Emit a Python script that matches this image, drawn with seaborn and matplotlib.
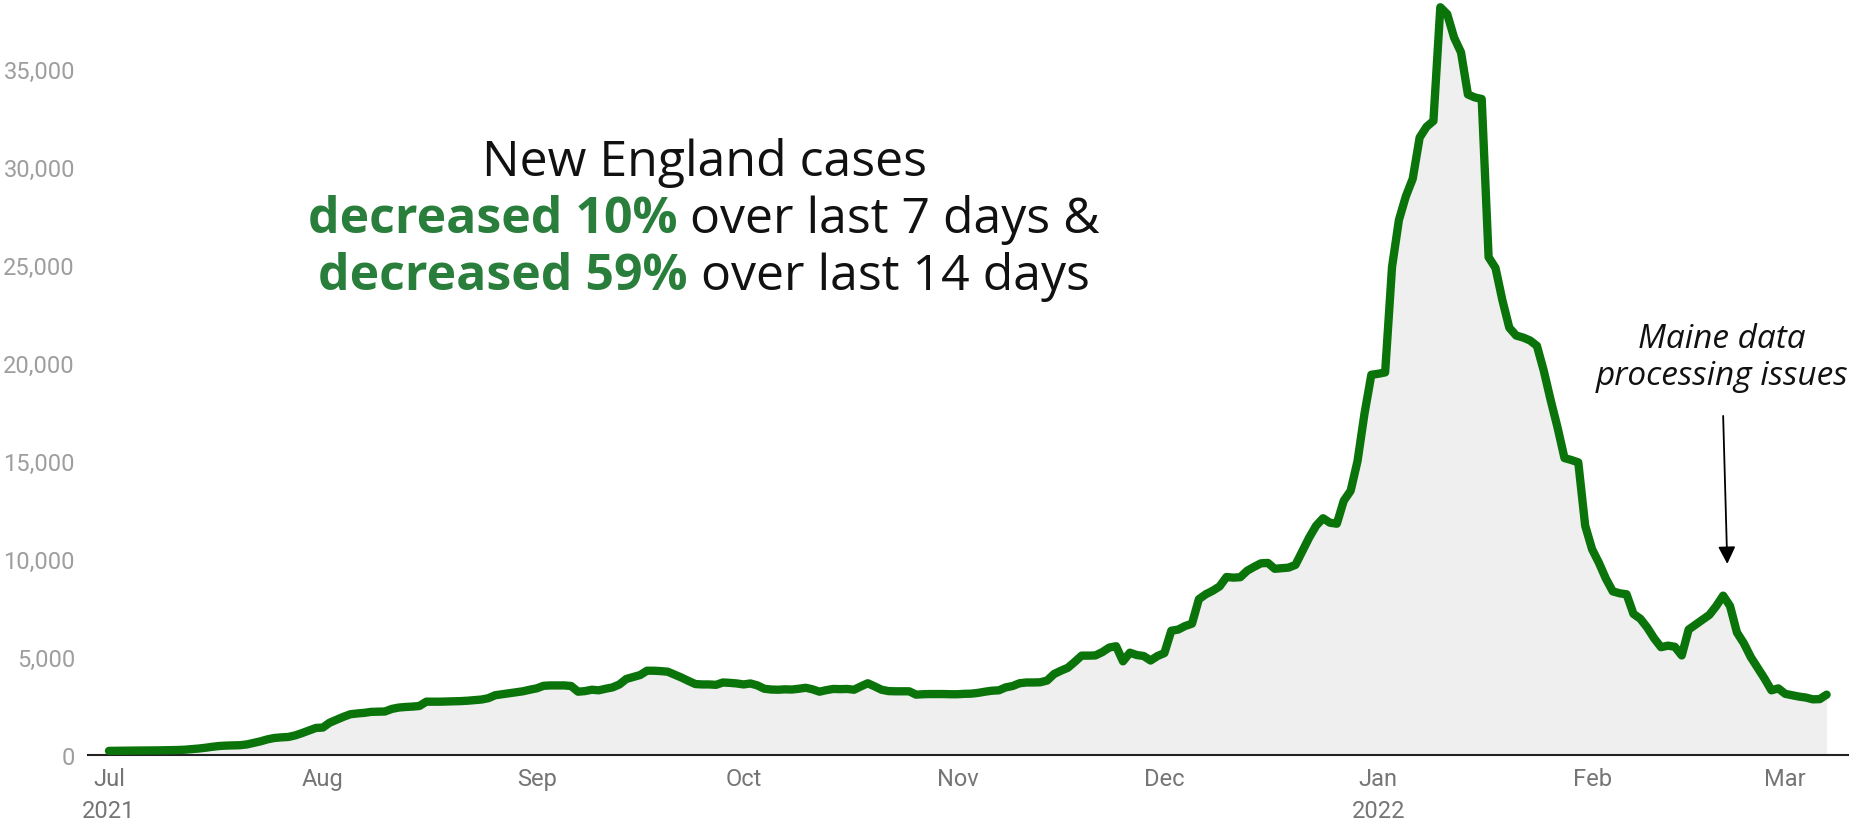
import numpy as np
import pandas as pd
import matplotlib
matplotlib.use("Agg")
import matplotlib.pyplot as plt
import matplotlib.dates as mdates
import seaborn as sns

# ---------------- data ----------------
start_date = "2021-07-01"
cases = [
    210, 215, 220, 220, 225, 230, 230, 235, 240, 245,
    255, 270, 300, 330, 370, 420, 460, 480, 490, 500,
    540, 620, 700, 800, 870, 900, 920, 1000, 1120, 1250,
    1380, 1400, 1650, 1800, 1950, 2080, 2120, 2150, 2200, 2210,
    2220, 2350, 2420, 2450, 2470, 2500, 2720, 2720, 2720, 2730,
    2740, 2750, 2770, 2800, 2830, 2900, 3050, 3100, 3150, 3200,
    3250, 3330, 3400, 3530, 3550, 3550, 3550, 3520, 3230, 3260,
    3330, 3300, 3380, 3450, 3600, 3880, 3980, 4080, 4300, 4300,
    4280, 4250, 4100, 3950, 3780, 3620, 3600, 3600, 3580, 3700,
    3680, 3650, 3600, 3650, 3550, 3380, 3340, 3330, 3350, 3340,
    3380, 3430, 3350, 3230, 3310, 3370, 3360, 3370, 3330, 3500,
    3660, 3500, 3330, 3260, 3250, 3250, 3250, 3080, 3100, 3110,
    3110, 3110, 3100, 3100, 3120, 3130, 3170, 3230, 3280, 3300,
    3450, 3520, 3660, 3700, 3700, 3710, 3800, 4130, 4300, 4450,
    4750, 5070, 5070, 5080, 5250, 5480, 5550, 4780, 5220, 5100,
    5050, 4820, 5050, 5200, 6340, 6400, 6580, 6700, 7950, 8200,
    8380, 8600, 9080, 9050, 9070, 9400, 9600, 9780, 9800, 9500,
    9530, 9560, 9700, 10400, 11100, 11700, 12080, 11850, 11800, 12970,
    13480, 15000, 17400, 19400, 19450, 19520, 24900, 27300, 28500, 29400,
    31500, 32050, 32350, 38150, 37800, 36600, 35850, 33700, 33550, 33470,
    25400, 24850, 23200, 21800, 21400, 21300, 21150, 20880, 19600, 18100,
    16700, 15150, 15050, 14930, 11700, 10500, 9800, 9000, 8350, 8250,
    8200, 7200, 6950, 6500, 5950, 5500, 5580, 5520, 5080, 6400,
    6650, 6900, 7150, 7600, 8130, 7600, 6250, 5700, 5000, 4450,
    3900, 3300, 3400, 3120, 3050, 2980, 2930, 2840, 2850, 3080,
]
dates = pd.date_range(start_date, periods=len(cases), freq="D")

month_ticks = pd.date_range("2021-07-01", "2022-03-01", freq="MS")
month_labels = ["Jul\n2021", "Aug", "Sep", "Oct", "Nov", "Dec", "Jan\n2022", "Feb", "Mar"]
y_ticks = [0, 5000, 10000, 15000, 20000, 25000, 30000, 35000]

title_line1 = "New England cases"
title_pct7 = "decreased 10%"
title_rest7 = "over last 7 days &"
title_pct14 = "decreased 59%"
title_rest14 = "over last 14 days"

note_text = "Maine data\nprocessing issues"
note_arrow_date = "2022-02-20"

# ---------------- style ----------------
W, H = 1864, 828
LINE_GREEN = "#0a730a"
TEXT_GREEN = "#2a7e3b"
FILL = "#efefef"

sns.set_theme(style="white")
plt.rcParams["font.family"] = ["Roboto", "DejaVu Sans"]

fig = plt.figure(figsize=(W / 100, H / 100), dpi=100)
ax_left, ax_right, ax_bottom, ax_top = 88, 1848, 756, 1.4  # pixels
ax = fig.add_axes([ax_left / W, (H - ax_bottom) / H,
                   (ax_right - ax_left) / W, (ax_bottom - ax_top) / H])

ax.fill_between(dates, cases, 0, color=FILL, linewidth=0, zorder=1)
sns.lineplot(x=dates, y=cases, ax=ax, color=LINE_GREEN, linewidth=6.0,
             solid_joinstyle="round", solid_capstyle="round", zorder=3)
ax.set_xlabel("")
ax.set_ylabel("")

d0 = mdates.date2num(dates[0])
ax.set_xlim(d0 - 3.04, d0 + 252.1)
ax.set_ylim(0, 38500)

ax.set_xticks(month_ticks)
ax.set_xticklabels(month_labels)
ax.set_yticks(y_ticks)
ax.set_yticklabels([f"{v:,}" for v in y_ticks])
ax.tick_params(axis="x", length=0, pad=8.5, labelsize=17, labelcolor="#757575")
ax.tick_params(axis="y", length=0, pad=9.4, labelsize=17, labelcolor="#9e9e9e")
for lab in ax.get_xticklabels() + ax.get_yticklabels():
    lab.set_family(["Roboto", "DejaVu Sans"])
for lab in ax.get_xticklabels():
    lab.set_linespacing(1.5)

ax.grid(False)
for s in ["top", "right", "left"]:
    ax.spines[s].set_visible(False)
ax.spines["bottom"].set_color("#222222")
ax.spines["bottom"].set_linewidth(1.5)
ax.spines["bottom"].set_zorder(2)
ax.set_facecolor("white")

# ---------------- annotation ----------------
arrow_x = mdates.date2num(pd.Timestamp(note_arrow_date)) + 0.6
ax.annotate("", xy=(arrow_x, 9750), xytext=(arrow_x - 0.6, 17300),
            arrowprops=dict(arrowstyle="-|>", color="black", lw=1.3,
                            mutation_scale=26, shrinkA=0, shrinkB=0),
            zorder=5)
fig.text(1722 / W, (H - 358) / H, note_text, ha="center", va="center",
         fontsize=24, style="italic", color="#111111", linespacing=1.15,
         family=["Open Sans", "DejaVu Sans"])

# ---------------- title (mixed colours, centred) ----------------
TITLE_FONT = ["Open Sans", "DejaVu Sans"]
TFS = 36
fig.canvas.draw()
renderer = fig.canvas.get_renderer()


def text_width(s, weight):
    t = fig.text(0, 0, s, fontsize=TFS, fontweight=weight, family=TITLE_FONT)
    w = t.get_window_extent(renderer).width
    t.remove()
    return w


space_w = text_width("a a", "normal") - text_width("aa", "normal")
cx = 704


def mixed_line(bold, rest, base_px):
    wb = text_width(bold, "bold")
    wr = text_width(rest, "normal")
    x = cx - (wb + space_w + wr) / 2
    y = (H - base_px) / H
    fig.text(x / W, y, bold, fontsize=TFS, fontweight="bold", color=TEXT_GREEN,
             family=TITLE_FONT, va="baseline", ha="left")
    fig.text((x + wb + space_w) / W, y, rest, fontsize=TFS, fontweight="normal",
             color="#111111", family=TITLE_FONT, va="baseline", ha="left")


fig.text(cx / W, (H - 176) / H, title_line1, fontsize=TFS, color="#111111",
         family=TITLE_FONT, va="baseline", ha="center")
mixed_line(title_pct7, title_rest7, 233)
mixed_line(title_pct14, title_rest14, 290)

fig.savefig("out.png", dpi=100, facecolor="white")
